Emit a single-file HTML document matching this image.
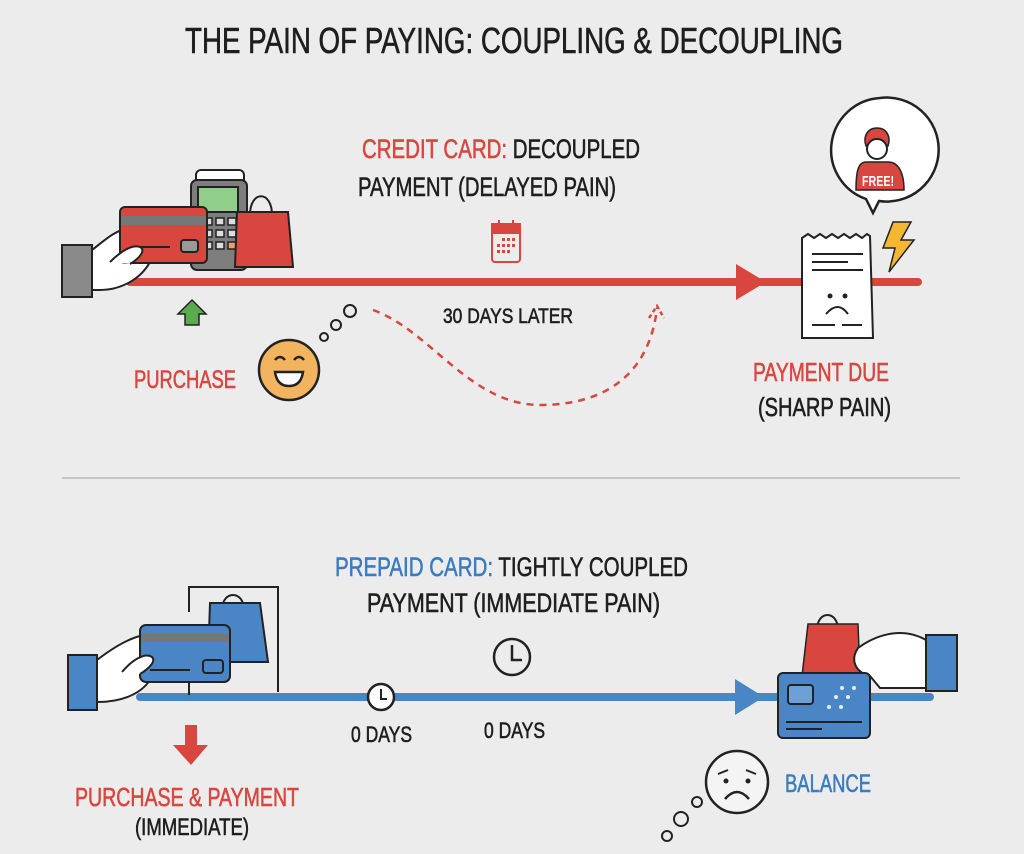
<!DOCTYPE html>
<html><head><meta charset="utf-8"><style>
html,body{margin:0;padding:0;background:#ececec;}
svg{display:block;}
text{font-family:"Liberation Sans Narrow","Liberation Sans",sans-serif;stroke-width:0.6px;}
</style></head><body>
<svg width="1024" height="854" viewBox="0 0 1024 854" xmlns="http://www.w3.org/2000/svg">
<rect width="1024" height="854" fill="#ececec"/>
<text x="185" y="53" font-size="36" fill="#1e1e1e" stroke="#1e1e1e" textLength="658" lengthAdjust="spacingAndGlyphs">THE PAIN OF PAYING: COUPLING &amp; DECOUPLING</text>

<!-- credit section -->
<text x="362" y="158" font-size="27" textLength="278" lengthAdjust="spacingAndGlyphs"><tspan fill="#d9463f" stroke="#d9463f">CREDIT CARD:</tspan><tspan fill="#1e1e1e" stroke="#1e1e1e"> DECOUPLED</tspan></text>
<text x="358" y="196" font-size="27" fill="#1e1e1e" stroke="#1e1e1e" textLength="258" lengthAdjust="spacingAndGlyphs">PAYMENT (DELAYED PAIN)</text>
<!-- calendar -->
<g stroke="#d9463f" stroke-width="2" fill="none">
<rect x="492" y="224" width="28" height="38" rx="3"/>
<rect x="492" y="224" width="28" height="9" fill="#d9463f"/>
<line x1="499" y1="220" x2="499" y2="227"/><line x1="513" y1="220" x2="513" y2="227"/>
</g>
<g fill="#d9463f"><rect x="502" y="238" width="3" height="3"/><rect x="507" y="238" width="3" height="3"/><rect x="512" y="238" width="3" height="3"/><rect x="497" y="244" width="3" height="3"/><rect x="502" y="244" width="3" height="3"/><rect x="507" y="244" width="3" height="3"/><rect x="512" y="244" width="3" height="3"/><rect x="497" y="250" width="3" height="3"/><rect x="502" y="250" width="3" height="3"/><rect x="507" y="250" width="3" height="3"/></g>

<line x1="130" y1="282" x2="918" y2="282" stroke="#d9463f" stroke-width="8" stroke-linecap="round"/>
<polygon points="736,264 766,282 736,300" fill="#d9463f"/>

<text x="443" y="323" font-size="21" fill="#1e1e1e" stroke="#1e1e1e" textLength="130" lengthAdjust="spacingAndGlyphs">30 DAYS LATER</text>
<path d="M373,310 C430,330 470,405 540,405 C610,405 650,370 657,308" fill="none" stroke="#d9463f" stroke-width="2.5" stroke-dasharray="7,6"/>
<polyline points="649,318 657,306 664,318" fill="none" stroke="#d9463f" stroke-width="2.5" stroke-dasharray="4,3"/>

<!-- left credit illustration -->
<rect x="62" y="245" width="30" height="52" fill="#8a8a8a" stroke="#222" stroke-width="2"/>
<path d="M92,250 C105,240 115,230 130,228 L150,228 L150,262 C140,280 120,290 100,290 L92,290 Z" fill="#fff" stroke="#222" stroke-width="2"/>
<rect x="196" y="170" width="48" height="20" rx="5" fill="#fff" stroke="#222" stroke-width="2"/>
<rect x="191" y="180" width="56" height="90" rx="6" fill="#7d7d7d" stroke="#222" stroke-width="2"/>
<rect x="198" y="187" width="40" height="25" fill="#8fcf8a" stroke="#222" stroke-width="2"/>
<g fill="#ddd" stroke="#222" stroke-width="1.5"><rect x="204" y="218" width="8" height="7"/><rect x="216" y="218" width="8" height="7"/><rect x="228" y="218" width="8" height="7"/><rect x="204" y="230" width="8" height="7"/><rect x="216" y="230" width="8" height="7"/><rect x="228" y="230" width="8" height="7"/><rect x="204" y="242" width="8" height="7"/><rect x="216" y="242" width="8" height="7"/><rect x="228" y="242" width="8" height="7" fill="#e8a070"/></g>
<path d="M250,215 C250,190 272,190 272,215" fill="none" stroke="#222" stroke-width="2"/>
<polygon points="237,212 288,212 293,267 235,267" fill="#d9463f" stroke="#222" stroke-width="2"/>
<rect x="120" y="207" width="87" height="56" rx="5" fill="#d9463f" stroke="#222" stroke-width="2"/>
<rect x="121" y="216" width="85" height="9" fill="#777"/>
<rect x="181" y="240" width="17" height="12" rx="3" fill="#999" stroke="#222" stroke-width="2"/>
<line x1="140" y1="247" x2="170" y2="247" stroke="#222" stroke-width="2"/>
<path d="M110,262 C120,252 132,244 140,247 C146,250 140,258 130,264" fill="#fff" stroke="#222" stroke-width="2"/>
<polygon points="192,300 206,314 199,314 199,325 185,325 185,314 178,314" fill="#5aab4e" stroke="#222" stroke-width="1.5"/>
<text x="134" y="388" font-size="25" fill="#d9463f" stroke="#d9463f" textLength="102" lengthAdjust="spacingAndGlyphs">PURCHASE</text>
<circle cx="289" cy="370" r="30" fill="#f2b45f" stroke="#222" stroke-width="2.5"/>
<path d="M275,360 q5,-6 10,0 M294,360 q5,-6 10,0" fill="none" stroke="#222" stroke-width="2.5"/>
<path d="M275,372 h28 q-2,14 -14,14 q-12,0 -14,-14 z" fill="#fff" stroke="#222" stroke-width="2.5"/>
<circle cx="324" cy="337" r="4" fill="none" stroke="#222" stroke-width="2"/>
<circle cx="336" cy="325" r="5" fill="none" stroke="#222" stroke-width="2"/>
<circle cx="350" cy="311" r="6" fill="none" stroke="#222" stroke-width="2"/>

<!-- receipt -->
<path d="M802,238 l6,-4 l6,4 l6,-4 l6,4 l6,-4 l6,4 l6,-4 l6,4 l6,-4 l6,4 l5,-4 l3,2 L873,338 L802,338 Z" fill="#fff" stroke="#222" stroke-width="2"/>
<g stroke="#222" stroke-width="2"><line x1="812" y1="254" x2="863" y2="254"/><line x1="812" y1="262" x2="848" y2="262"/><line x1="812" y1="270" x2="863" y2="270"/><line x1="812" y1="325" x2="835" y2="325"/><line x1="842" y1="325" x2="862" y2="325"/></g>
<circle cx="830" cy="296" r="2.5" fill="#222"/><circle cx="845" cy="296" r="2.5" fill="#222"/>
<path d="M826,314 q12,-14 22,0" fill="none" stroke="#222" stroke-width="2"/>
<polygon points="893,222 911,222 901,240 914,240 889,272 895,248 883,248" fill="#f4b731" stroke="#222" stroke-width="1.5"/>
<path d="M880,98 a52,52 0 1 1 -1,103 L873,213 L866,199 a52,52 0 0 1 14,-101 z" fill="#fff" stroke="#222" stroke-width="2.5"/>
<path d="M877,128 c-10,0 -14,9 -11,18 h22 c3,-9 -1,-18 -11,-18z" fill="#d9463f" stroke="#222" stroke-width="1.5"/>
<circle cx="877" cy="149" r="10" fill="#fff" stroke="#222" stroke-width="2"/>
<path d="M866,162 h22 c10,0 16,10 16,28 h-48 c0,-18 2,-28 10,-28 z" fill="#d9463f" stroke="#222" stroke-width="1.5"/>
<text x="862" y="186" font-size="15" fill="#fff" font-weight="bold" textLength="32" lengthAdjust="spacingAndGlyphs">FREE!</text>
<text x="753" y="381" font-size="26" fill="#d9463f" stroke="#d9463f" textLength="136" lengthAdjust="spacingAndGlyphs">PAYMENT DUE</text>
<text x="758" y="416" font-size="26" fill="#1e1e1e" stroke="#1e1e1e" textLength="133" lengthAdjust="spacingAndGlyphs">(SHARP PAIN)</text>

<line x1="62" y1="478" x2="960" y2="478" stroke="#c4c4c4" stroke-width="2"/>

<!-- prepaid section -->
<text x="335" y="576" font-size="27" textLength="353" lengthAdjust="spacingAndGlyphs"><tspan fill="#3a7cc0" stroke="#3a7cc0">PREPAID CARD:</tspan><tspan fill="#1e1e1e" stroke="#1e1e1e"> TIGHTLY COUPLED</tspan></text>
<text x="367" y="612" font-size="27" fill="#1e1e1e" stroke="#1e1e1e" textLength="293" lengthAdjust="spacingAndGlyphs">PAYMENT (IMMEDIATE PAIN)</text>

<line x1="140" y1="697" x2="930" y2="697" stroke="#4a86c5" stroke-width="8" stroke-linecap="round"/>
<polygon points="735,679 764,697 735,715" fill="#4a86c5"/>

<!-- left prepaid illustration -->
<polyline points="189,612 189,587 278,587 278,692" fill="none" stroke="#222" stroke-width="2"/>
<line x1="189" y1="680" x2="189" y2="695" stroke="#222" stroke-width="2"/>
<path d="M222,610 C222,590 244,590 244,610" fill="none" stroke="#222" stroke-width="2"/>
<polygon points="210,603 260,603 268,662 208,662" fill="#4a86c5" stroke="#222" stroke-width="2"/>
<rect x="68" y="655" width="29" height="55" fill="#4a86c5" stroke="#222" stroke-width="2"/>
<path d="M97,660 C110,650 125,640 140,636 L150,636 L150,680 C140,695 120,702 97,702 Z" fill="#fff" stroke="#222" stroke-width="2"/>
<rect x="140" y="625" width="90" height="57" rx="6" fill="#4a86c5" stroke="#222" stroke-width="2"/>
<rect x="141" y="634" width="88" height="8" fill="#777"/>
<rect x="203" y="660" width="20" height="13" rx="3" fill="#4a86c5" stroke="#222" stroke-width="2"/>
<line x1="150" y1="670" x2="190" y2="670" stroke="#222" stroke-width="2"/>
<path d="M122,672 C132,660 145,652 152,657 C156,661 150,668 140,674" fill="#fff" stroke="#222" stroke-width="2"/>

<circle cx="381" cy="697" r="13" fill="#fff" stroke="#222" stroke-width="2.5"/>
<polyline points="381,689 381,699 387,699" fill="none" stroke="#222" stroke-width="2"/>
<circle cx="512" cy="657" r="18" fill="none" stroke="#222" stroke-width="2.5"/>
<polyline points="512,645 512,660 522,660" fill="none" stroke="#222" stroke-width="2.5"/>
<text x="351" y="742" font-size="22" fill="#1e1e1e" stroke="#1e1e1e" textLength="61" lengthAdjust="spacingAndGlyphs">0 DAYS</text>
<text x="484" y="738" font-size="22" fill="#1e1e1e" stroke="#1e1e1e" textLength="61" lengthAdjust="spacingAndGlyphs">0 DAYS</text>

<polygon points="185,725 197,725 197,745 208,745 191,765 173,745 185,745" fill="#d9463f"/>
<text x="75" y="806" font-size="26" fill="#d9463f" stroke="#d9463f" textLength="224" lengthAdjust="spacingAndGlyphs">PURCHASE &amp; PAYMENT</text>
<text x="135" y="835" font-size="24" fill="#1e1e1e" stroke="#1e1e1e" textLength="114" lengthAdjust="spacingAndGlyphs">(IMMEDIATE)</text>

<!-- right prepaid illustration -->
<path d="M817,630 C817,610 838,610 838,630" fill="none" stroke="#222" stroke-width="2"/>
<polygon points="808,624 858,624 860,676 802,676" fill="#d9463f" stroke="#222" stroke-width="1.5"/>
<rect x="926" y="635" width="31" height="56" fill="#4a86c5" stroke="#222" stroke-width="2"/>
<path d="M926,640 C905,628 880,632 858,648 C850,660 855,672 870,676 L880,688 L926,688 Z" fill="#fff" stroke="#222" stroke-width="2"/>
<rect x="778" y="673" width="92" height="65" rx="5" fill="#4a86c5" stroke="#222" stroke-width="2"/>
<rect x="788" y="685" width="25" height="19" rx="3" fill="#6da0d6" stroke="#222" stroke-width="2"/>
<g fill="#dfeeff"><circle cx="842" cy="688" r="2"/><circle cx="854" cy="688" r="2"/><circle cx="836" cy="697" r="2"/><circle cx="848" cy="697" r="2"/><circle cx="829" cy="707" r="2"/><circle cx="841" cy="707" r="2"/></g>
<line x1="786" y1="722" x2="862" y2="722" stroke="#222" stroke-width="2"/>
<line x1="786" y1="729" x2="822" y2="729" stroke="#222" stroke-width="2"/>

<circle cx="737" cy="782" r="31" fill="#f4f4f4" stroke="#222" stroke-width="2.5"/>
<circle cx="726" cy="781" r="2.5" fill="#222"/><circle cx="748" cy="781" r="2.5" fill="#222"/>
<path d="M718,774 l10,-4 M756,774 l-10,-4" stroke="#222" stroke-width="2"/>
<path d="M725,799 q12,-14 24,0" fill="none" stroke="#222" stroke-width="2.5"/>
<circle cx="697" cy="802" r="5" fill="none" stroke="#222" stroke-width="2"/>
<circle cx="681" cy="819" r="7" fill="none" stroke="#222" stroke-width="2"/>
<circle cx="667" cy="836" r="5" fill="none" stroke="#222" stroke-width="2"/>
<text x="785" y="792" font-size="25" fill="#3a7cc0" stroke="#3a7cc0" textLength="86" lengthAdjust="spacingAndGlyphs">BALANCE</text>
</svg>
</body></html>
